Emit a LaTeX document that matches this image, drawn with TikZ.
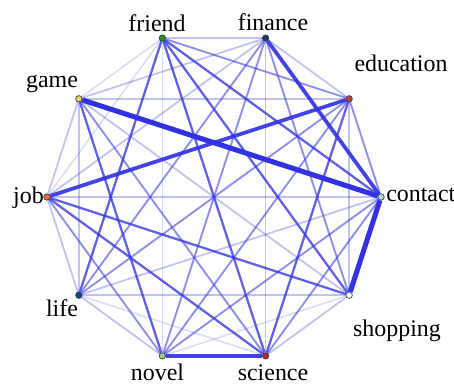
\documentclass[tikz,border=0pt]{standalone}
\usepackage{fontspec}
\setmainfont{Liberation Serif}
\usetikzlibrary{backgrounds}

\definecolor{edgeblue}{RGB}{50,50,228}
\definecolor{dotline}{RGB}{40,60,60}

\tikzset{
  dot/.style={circle,draw=dotline,line width=0.5pt,inner sep=0pt,minimum size=0.17cm},
  word/.style={font=\fontsize{18}{20}\selectfont,inner sep=0pt},
  faint/.style={edgeblue,opacity=0.17,line width=1.2pt},
  light/.style={edgeblue,opacity=0.3,line width=1.3pt},
  mid/.style={edgeblue,opacity=0.55,line width=1.4pt},
  strong/.style={edgeblue,opacity=0.78,line width=1.7pt},
  heavy/.style={edgeblue,opacity=0.92,line width=2.8pt},
  heaviest/.style={edgeblue,line width=3.8pt}
}

\begin{document}
\begin{tikzpicture}
\useasboundingbox (-5.662,-4.974) rectangle (6.350,5.212);

% the ten topics on a decagon
\node[dot,fill={rgb,255:red,180;green,220;blue,225}] (contact)   at (0:4.42)   {};
\node[dot,fill={rgb,255:red,205;green,65;blue,55}]   (education) at (36:4.42)  {};
\node[dot,fill={rgb,255:red,25;green,55;blue,115}]   (finance)   at (72:4.42)  {};
\node[dot,fill={rgb,255:red,40;green,140;blue,45}]   (friend)    at (108:4.42) {};
\node[dot,fill={rgb,255:red,235;green,205;blue,95}]  (game)      at (144:4.42) {};
\node[dot,fill={rgb,255:red,235;green,105;blue,60}]  (job)       at (180:4.42) {};
\node[dot,fill={rgb,255:red,25;green,65;blue,145}]   (life)      at (216:4.42) {};
\node[dot,fill={rgb,255:red,160;green,205;blue,125}] (novel)     at (252:4.42) {};
\node[dot,fill={rgb,255:red,195;green,35;blue,65}]   (science)   at (288:4.42) {};
\node[dot,fill=white]                                (shopping)  at (324:4.42) {};

% labels
\node[word,anchor=base] (lfriend) at (-1.508,4.373) {friend};
\node[word,anchor=base] (lfinance) at (1.561,4.418) {finance};
\node[word,anchor=base] (leducation) at (4.948,3.315) {education};
\node[word,anchor=base west] (lcontact) at (4.551,-0.132) {contact};
\node[word,anchor=base] (lshopping) at (4.842,-3.704) {shopping};
\node[word,anchor=base] (lscience) at (1.561,-4.842) {science};
\node[word,anchor=base] (lnovel) at (-1.495,-4.868) {novel};
\node[word,anchor=base] (llife) at (-4.022,-3.175) {life};
\node[word,anchor=base east] (ljob) at (-4.498,-0.159) {job};
\node[word,anchor=base] (lgame) at (-4.286,2.910) {game};

\begin{pgfonlayer}{background}
\fill[white] (-5.662,-4.974) rectangle (6.350,5.212);

% outer ring
\draw[mid] (contact)--(education);
\draw[light] (education)--(finance);
\draw[light] (finance)--(friend);
\draw[faint] (friend)--(game);
\draw[light] (game)--(job);
\draw[light] (job)--(life);
\draw[light] (life)--(novel);
\draw[heavy] (novel)--(science);
\draw[light] (science)--(shopping);
\draw[heaviest] (shopping)--(contact);

% two steps apart
\draw[heavy] (contact)--(finance);
\draw[mid] (education)--(friend);
\draw[light] (finance)--(game);
\draw[faint] (friend)--(job);
\draw[light] (game)--(life);
\draw[mid] (job)--(novel);
\draw[faint] (life)--(science);
\draw[faint] (novel)--(shopping);
\draw[mid] (science)--(contact);
\draw[light] (shopping)--(education);

% three steps apart
\draw[strong] (contact)--(friend);
\draw[light] (education)--(game);
\draw[light] (finance)--(job);
\draw[strong] (friend)--(life);
\draw[strong] (game)--(novel);
\draw[strong] (job)--(science);
\draw[light] (life)--(shopping);
\draw[mid] (novel)--(contact);
\draw[strong] (science)--(education);
\draw[mid] (shopping)--(finance);

% four steps apart
\draw[heaviest] (contact)--(game);
\draw[heavy] (education)--(job);
\draw[mid] (finance)--(life);
\draw[faint] (friend)--(novel);
\draw[mid] (game)--(science);
\draw[strong] (job)--(shopping);
\draw[light] (life)--(contact);
\draw[mid] (novel)--(education);
\draw[light] (science)--(finance);
\draw[strong] (shopping)--(friend);

% across
\draw[light] (contact)--(job);
\draw[mid] (education)--(life);
\draw[mid] (finance)--(novel);
\draw[strong] (friend)--(science);
\draw[light] (game)--(shopping);
\end{pgfonlayer}
\end{tikzpicture}
\end{document}
